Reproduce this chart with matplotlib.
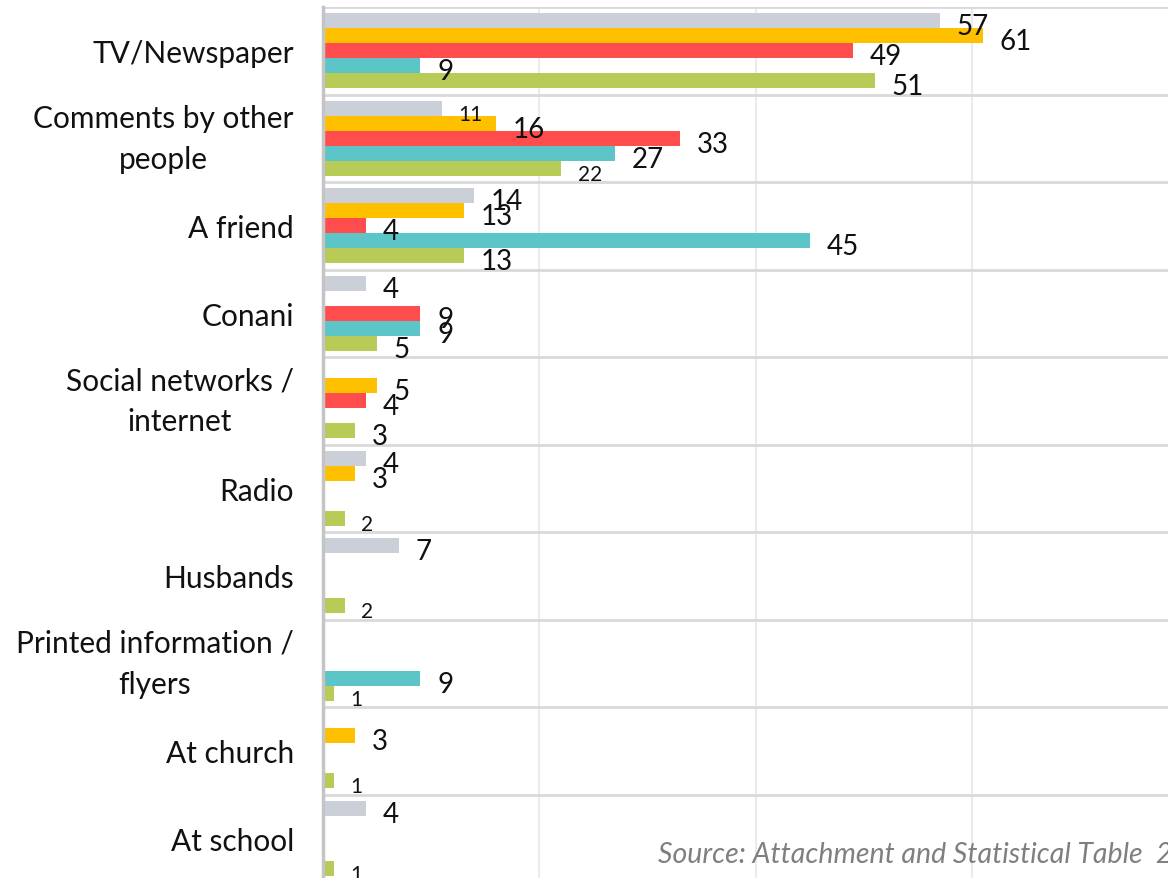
import numpy as np
import matplotlib
matplotlib.use("Agg")
import matplotlib.pyplot as plt

# Survey answers: where respondents heard about the programme
categories = [
    "TV/Newspaper",
    "Comments by other\npeople",
    "A friend",
    "Conani",
    "Social networks /\ninternet",
    "Radio",
    "Husbands",
    "Printed information /\nflyers",
    "At church",
    "At school",
]

nan = np.nan
series_gray = [57, 11, 14, 4, nan, 4, 7, nan, nan, 4]
series_orange = [61, 16, 13, nan, 5, 3, nan, nan, 3, nan]
series_red = [49, 33, 4, 9, 4, nan, nan, nan, nan, nan]
series_teal = [9, 27, 45, 9, nan, nan, nan, 9, nan, nan]
series_green = [51, 22, 13, 5, 3, 2, 2, 1, 1, 1]

series = [series_gray, series_orange, series_red, series_teal, series_green]
colors = ["#CBD0D8", "#FFC000", "#FF4D4D", "#5BC5C8", "#B8CB57"]

# labels drawn in a smaller size: (category index, series index)
small_labels = {(1, 0), (1, 4), (5, 4), (6, 4), (7, 4), (8, 4), (9, 4)}

source_text = "Source: Attachment and Statistical Table  2"

plt.rcParams["font.family"] = ["Lato", "DejaVu Sans"]

W, H = 1168, 879
fig = plt.figure(figsize=(W / 100, H / 100), dpi=100)
ax = fig.add_axes([323 / W, (H - 883) / H, (W - 323) / W, 875 / H])

n_cat = len(categories)
y = np.arange(n_cat)
bar_h = 15 / 87.5

for k, (vals, col) in enumerate(zip(series, colors)):
    offs = (k - 2) * bar_h
    for i, v in enumerate(vals):
        if np.isnan(v):
            continue
        ax.barh(y[i] + offs, v, height=bar_h, color=col, zorder=3)
        size = 15 if (i, k) in small_labels else 20
        ax.annotate(f"{int(v)}", xy=(v, y[i] + offs), xytext=(12, -4),
                    textcoords="offset points", ha="left", va="center",
                    fontsize=size, color="#111111", zorder=5)

ax.set_xlim(0, (W - 323) / 10.82)
ax.set_ylim(n_cat - 0.5, -0.5)

# vertical gridlines every 20 units
for xv in (20, 40, 60, 80):
    ax.axvline(xv, color="#EBEBEB", lw=1.5, zorder=1)
# group separators
for b in np.arange(-0.5, n_cat, 1.0):
    ax.axhline(b, color="#D9D9D9", lw=2, zorder=2)

for s in ("top", "right", "bottom"):
    ax.spines[s].set_visible(False)
ax.spines["left"].set_color("#C4C4C4")
ax.spines["left"].set_linewidth(2.5)
ax.spines["left"].set_zorder(6)

ax.set_xticks([])
ax.set_yticks(y)
ax.set_yticklabels(categories, fontsize=21.5, color="#111111",
                   linespacing=1.55)
ax.tick_params(axis="y", length=0, pad=21)
for lab in ax.get_yticklabels():
    lab.set_multialignment("center")
    if "\n" in lab.get_text():
        lab.set_verticalalignment("center")

fig.text(658 / W, 1 - 855 / H, source_text, fontsize=20.5, style="italic",
         color="#7F7F7F", ha="left", va="center")

fig.savefig("out.png", dpi=100)
